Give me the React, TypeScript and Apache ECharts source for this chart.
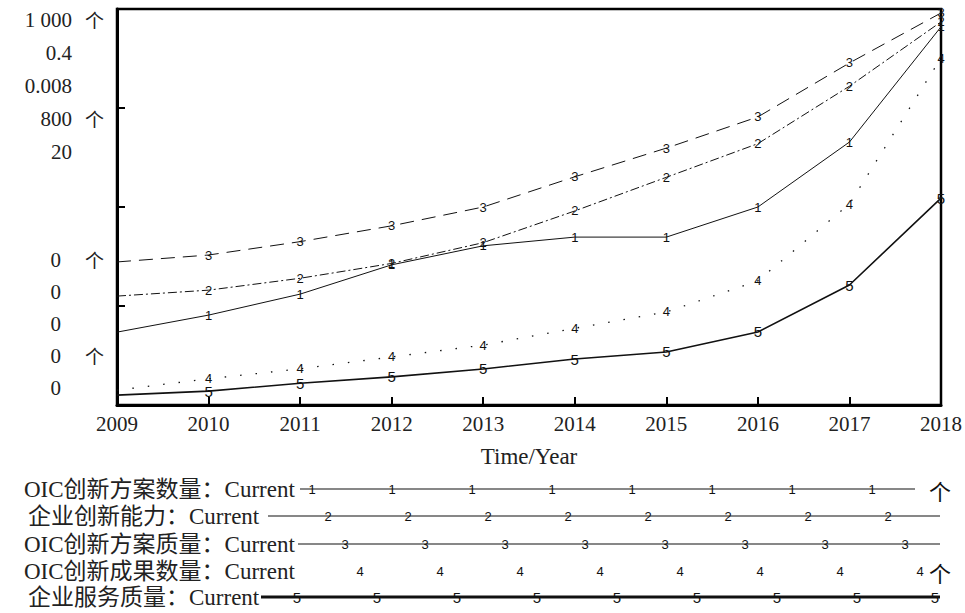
import React, { useEffect, useRef } from "react";
import * as echarts from "echarts";

// ---- data ----
const years = [2009, 2010, 2011, 2012, 2013, 2014, 2015, 2016, 2017, 2018];
const s1 = [184, 227, 280, 354, 402, 424, 424, 500, 664, 955]; // OIC创新方案数量 (个)
const s2 = [0.11, 0.116, 0.128, 0.143, 0.164, 0.196, 0.23, 0.264, 0.322, 0.387]; // 企业创新能力
const s3 = [0.00289, 0.00303, 0.0033, 0.00362, 0.004, 0.00461, 0.00519, 0.00582, 0.00691, 0.00792]; // OIC创新方案质量
const s4 = [30, 53, 73, 97, 121, 155, 188, 251, 406, 701]; // OIC创新成果数量 (个)
const s5 = [0.5, 0.7, 1.1, 1.42, 1.82, 2.32, 2.68, 3.69, 6.06, 10.45]; // 企业服务质量
const seriesMax = [1000, 0.4, 0.008, 800, 20];
const topLabels = ["1 000", "0.4", "0.008", "800", "20"];
const bottomLabels = ["0", "0", "0", "0", "0"];
const units = ["个", "", "", "个", ""];
const legendNames = [
  "OIC创新方案数量：Current",
  "企业创新能力：Current",
  "OIC创新方案质量：Current",
  "OIC创新成果数量：Current",
  "企业服务质量：Current",
];
const markers = ["1", "2", "3", "4", "5"];
const xName = "Time/Year";

const SERIF = '"Liberation Serif", "Times New Roman", "Noto Sans CJK SC", serif';
const SANS = '"Liberation Sans", Arial, sans-serif';

export default function App() {
  const ref = useRef<HTMLDivElement>(null);
  useEffect(() => {
    document.body.style.margin = "0";
    const chart = echarts.init(ref.current!, null, { renderer: "svg" });

    const allSeries = [s1, s2, s3, s4, s5];
    const lineStyles: any[] = [
      { width: 1, type: "solid" },
      { width: 1, type: [9, 3, 2, 3] },
      { width: 1, type: [14, 8] },
      { width: 1.3, type: [1.5, 14] },
      { width: 1.6, type: "solid" },
    ];

    const series = allSeries.map((arr, i) => ({
      type: "line",
      name: legendNames[i],
      yAxisIndex: i + 1,
      data: years.map((y, j) => [y, arr[j]]),
      symbol: "circle",
      symbolSize: 1,
      showSymbol: true,
      itemStyle: { color: "rgba(0,0,0,0)" },
      lineStyle: { color: "#111", ...lineStyles[i] },
      label: {
        show: true,
        position: "inside",
        color: "#111",
        fontFamily: SANS,
        fontSize: i === 4 ? 15 : 13,
        formatter: (p: any) => (p.dataIndex === 0 ? "" : markers[i]),
      },
      silent: true,
      z: 3,
    }));

    const graphic: any[] = [];
    // stacked y labels
    topLabels.forEach((t, i) => {
      const y = 20 + i * 33;
      graphic.push({ type: "text", x: 72, y, style: { text: t, font: `21px ${SERIF}`, fill: "#222", align: "right", verticalAlign: "middle" } });
      if (units[i]) graphic.push({ type: "text", x: 85, y: y - 1, style: { text: units[i], font: `19px "Noto Sans CJK SC"`, fill: "#222", align: "left", verticalAlign: "middle" } });
    });
    bottomLabels.forEach((t, i) => {
      const y = 260 + i * 32;
      graphic.push({ type: "text", x: 61, y, style: { text: t, font: `21px ${SERIF}`, fill: "#222", align: "right", verticalAlign: "middle" } });
      if (units[i]) graphic.push({ type: "text", x: 85, y: y - 1, style: { text: units[i], font: `19px "Noto Sans CJK SC"`, fill: "#222", align: "left", verticalAlign: "middle" } });
    });

    // legend rows
    const rowY = [489, 516, 544, 571, 597];
    const textX = [24, 28, 24, 24, 28];
    const lineStart = [300, 268, 298, 298, 261];
    const lineEnd = [915, 940, 940, 940, 940];
    const markStart = [312, 328, 345, 360, 297];
    const markCount = [8, 8, 8, 8, 9];
    const legendLineW = [1.2, 1.2, 1.2, 0, 2.8];
    const legendUnit = ["个", "", "", "个", ""];
    legendNames.forEach((name, i) => {
      const y = rowY[i];
      graphic.push({ type: "text", x: textX[i], y, style: { text: name, font: `23px ${SERIF}`, fill: "#222", align: "left", verticalAlign: "middle" } });
      if (legendLineW[i] > 0) {
        graphic.push({ type: "line", shape: { x1: lineStart[i], y1: y, x2: lineEnd[i], y2: y }, style: { stroke: "#111", lineWidth: legendLineW[i] } });
      }
      for (let k = 0; k < markCount[i]; k++) {
        const x = markStart[i] + k * 80 - (i === 4 && k === 8 ? 2 : 0);
        graphic.push({ type: "text", x, y, style: { text: markers[i], font: `${i === 4 ? 15 : 13}px ${SANS}`, fill: "#111", align: "center", verticalAlign: "middle" } });
      }
      if (legendUnit[i]) graphic.push({ type: "text", x: 940, y: y + 1, style: { text: legendUnit[i], font: `22px "Noto Sans CJK SC"`, fill: "#111", align: "center", verticalAlign: "middle" } });
    });

    const yAxes: any[] = [
      {
        type: "value",
        min: 0,
        max: 4,
        interval: 1,
        position: "left",
        axisLine: { show: true, lineStyle: { color: "#000", width: 3 } },
        axisTick: { show: true, inside: true, length: 8, lineStyle: { color: "#000", width: 2 } },
        axisLabel: { show: false },
        splitLine: { show: false },
      },
      ...seriesMax.map((m) => ({
        type: "value",
        min: 0,
        max: m,
        show: false,
        splitLine: { show: false },
      })),
    ];

    chart.setOption({
      animation: false,
      backgroundColor: "#fff",
      grid: {
        left: 117,
        right: 23,
        top: 9,
        bottom: 208,
        show: true,
        borderColor: "#000",
        borderWidth: 2.5,
        containLabel: false,
      },
      xAxis: {
        type: "value",
        min: 2009,
        max: 2018,
        interval: 1,
        name: xName,
        nameLocation: "middle",
        nameGap: 40,
        nameTextStyle: { fontFamily: SERIF, fontSize: 23, color: "#222" },
        axisLine: { show: true, lineStyle: { color: "#000", width: 3 } },
        axisTick: { show: true, inside: true, length: 8, lineStyle: { color: "#000", width: 2 } },
        axisLabel: { fontFamily: SERIF, fontSize: 21, color: "#222", margin: 8, formatter: (v: number) => String(v) },
        splitLine: { show: false },
      },
      yAxis: yAxes,
      series,
      graphic,
    });
    return () => chart.dispose();
  }, []);
  return <div ref={ref} style={{ width: 965, height: 613 }} />;
}
